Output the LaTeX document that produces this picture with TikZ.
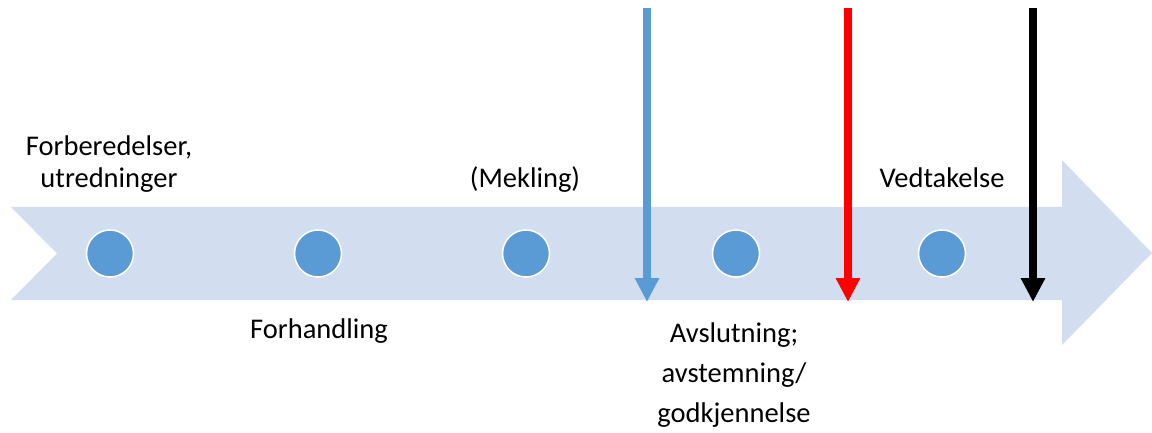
\documentclass[tikz,border=0pt]{standalone}
\usepackage{fontspec}
\setmainfont{Carlito}
\usepackage{tikz}
\usetikzlibrary{arrows.meta}
\usepackage{xcolor}
\definecolor{bandblue}{HTML}{D2DEEF}
\definecolor{dotblue}{HTML}{5B9BD5}

\begin{document}
\begin{tikzpicture}[x=1pt, y=-1pt,
    dot/.style={circle, fill=dotblue, draw=white, line width=1.5pt, minimum size=47pt, inner sep=0pt},
    lbl/.style={anchor=base, align=center, inner sep=0pt, font=\fontsize{28.5}{32}\selectfont},
    marker/.style={line width=8pt, -{Triangle[width=23pt, length=24pt]}}]
  \useasboundingbox (0, 0) rectangle (1152, 433);

  % big timeline arrow
  \fill[bandblue] (11, 207) -- (1062, 207) -- (1062, 160) -- (1152, 253) -- (1062, 345)
    -- (1062, 300) -- (11, 300) -- (57, 253.5) -- cycle;

  \node[dot] (c1) at (110, 253.5) {};
  \node[dot] (c2) at (318, 253.5) {};
  \node[dot] (c3) at (526, 253.5) {};
  \node[dot] (c4) at (736, 253.5) {};
  \node[dot] (c5) at (942, 253.5) {};

  % base anchor sits on the last line
  \node[lbl] (prep) at (109, 187) {Forberedelser,\\utredninger};
  \node[lbl] (neg) at (319, 338) {Forhandling};
  \node[lbl] (med) at (525, 187) {(Mekling)};
  \node[lbl, font=\fontsize{28.5}{40}\selectfont] (vote) at (734, 422) {Avslutning;\\avstemning/\\godkjennelse};
  \node[lbl] (adopt) at (942, 187) {Vedtakelse};

  \coordinate (b1) at (647, 8);  \coordinate (b2) at (647, 302);
  \coordinate (r1) at (848, 8);  \coordinate (r2) at (848, 302);
  \coordinate (k1) at (1033, 8); \coordinate (k2) at (1033, 302);

  \draw[marker, dotblue] (b1) -- (b2);
  \draw[marker, red] (r1) -- (r2);
  \draw[marker, black] (k1) -- (k2);
\end{tikzpicture}
\end{document}
